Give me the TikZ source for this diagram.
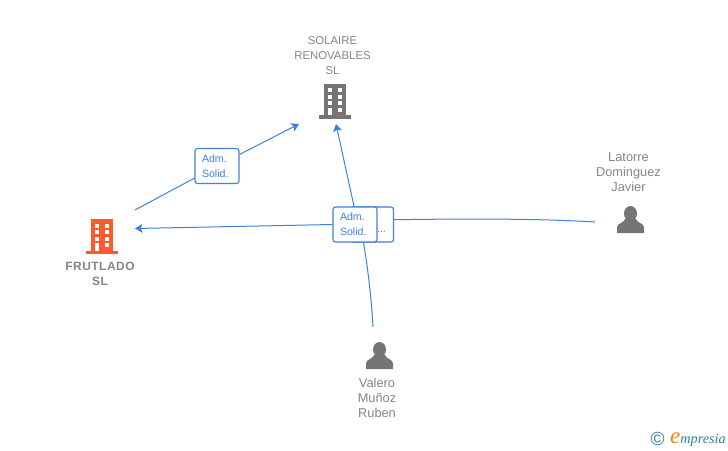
\documentclass[tikz,border=0pt]{standalone}
\usepackage{fontspec}
\setmainfont{Liberation Sans}
\newfontfamily\logofont{Liberation Serif}
\usetikzlibrary{arrows.meta,positioning,calc}
\definecolor{linkblue}{HTML}{3F80DC}
\definecolor{icongray}{HTML}{757575}
\definecolor{textgray}{HTML}{858585}
\definecolor{firmorange}{HTML}{FF5A2B}
\definecolor{logoteal}{HTML}{2F7F95}
\definecolor{logoorange}{HTML}{F0830F}
\tikzset{
    link/.style={draw=linkblue, line width=1pt},
    arrowlink/.style={link, -{Stealth[length=7.5pt,width=9pt,inset=1.8pt]}},
    rolebox/.style={rectangle, rounded corners=2.5pt, draw=linkblue, line width=1.1pt, fill=white, text=linkblue, minimum width=44pt, minimum height=35pt, inner sep=0pt, text width=30pt, align=left, font=\fontsize{10.6}{15}\selectfont},
    namelabel/.style={text=textgray, align=center, inner sep=0pt, font=\fontsize{12.8}{15}\selectfont},
    firmlabel/.style={text=textgray, align=center, inner sep=0pt, font=\fontsize{11.4}{15}\selectfont},
    pics/building/.style={code={
        \fill[#1] (-11,-17.5) rectangle (11,14);
        \fill[#1] (-16,14) rectangle (16,17.5);
        \foreach \ypos in {-13,-6.5,0} {
            \fill[white] (-7,\ypos) rectangle (-2.6,\ypos+4);
            \fill[white] (2.8,\ypos) rectangle (7.2,\ypos+4);
        }
        \fill[white] (-7,6.5) rectangle (-2.6,14);
        \fill[white] (2.8,6.5) rectangle (7.2,10.5);
    }},
    pics/person/.style={code={
        \fill[icongray] (0,-6) ellipse (6.5 and 7.5);
        \fill[icongray] (-13.5,13.5) -- (-13.5,8) .. controls (-13.5,3.5) and (-7,4) .. (-5,-1) -- (5,-1) .. controls (7,4) and (13.5,3.5) .. (13.5,8) -- (13.5,13.5) -- cycle;
    }},
}
\begin{document}
\begin{tikzpicture}[x=1pt,y=-1pt]
    \useasboundingbox (0,0) rectangle (728,450);

    \pic at (102,236.5) {building=firmorange};
    \pic at (335,101) {building=icongray};
    \pic at (630.5,219.5) {person};
    \pic at (379.5,355.5) {person};

    \node[firmlabel, font=\fontsize{12}{15}\selectfont\bfseries\addfontfeature{LetterSpace=4}] (frutlado) at (100,273.5) {FRUTLADO\\SL};
    \node[firmlabel] (solaire) at (332.5,56) {SOLAIRE\\RENOVABLES\\SL};
    \node[namelabel] (latorre) at (628.5,172) {Latorre\\Dominguez\\Javier};
    \node[namelabel] (valero) at (377,398) {Valero\\Muñoz\\Ruben};

    \coordinate (frutladoOut) at (135,210);
    \coordinate (frutladoIn) at (135,228.5);
    \coordinate (solaireLeft) at (299,124);
    \coordinate (solaireDown) at (336,124);
    \coordinate (latorreOut) at (595,222);
    \coordinate (valeroOut) at (373,327);

    \node[rolebox] (admA) at (217,166) {Adm.\\Solid.};
    \node[rolebox] (admC) at (371.5,224.5) {};
    \node[text=linkblue, inner sep=0pt, font=\fontsize{10.6}{12}\selectfont] (admCdots) at (381.5,232) {...};
    \node[rolebox] (admB) at (355,224.5) {Adm.\\Solid.};

    \draw[link] (frutladoOut) -- (admA);
    \draw[arrowlink] (admA) -- (solaireLeft);
    \draw[link] (latorreOut) .. controls (530,218) and (450,219) .. (admC.12);
    \draw[arrowlink] (admB.west) -- (frutladoIn);
    \draw[link] (valeroOut) .. controls (371.5,300) and (368,268) .. (admB.-65);
    \draw[arrowlink] (admB.93) -- (solaireDown);

    \node[text=logoteal, inner sep=0pt, font=\fontsize{19}{19}\selectfont] (copyrightmark) at (657.5,438.5) {©};
    \node[anchor=base west, inner sep=0pt, text=logoteal, font=\logofont\itshape\fontsize{14.2}{14}\selectfont] (logotext) at (670,443.5) {\textcolor{logoorange}{\fontsize{23}{23}\selectfont e}mpresia};
\end{tikzpicture}
\end{document}
